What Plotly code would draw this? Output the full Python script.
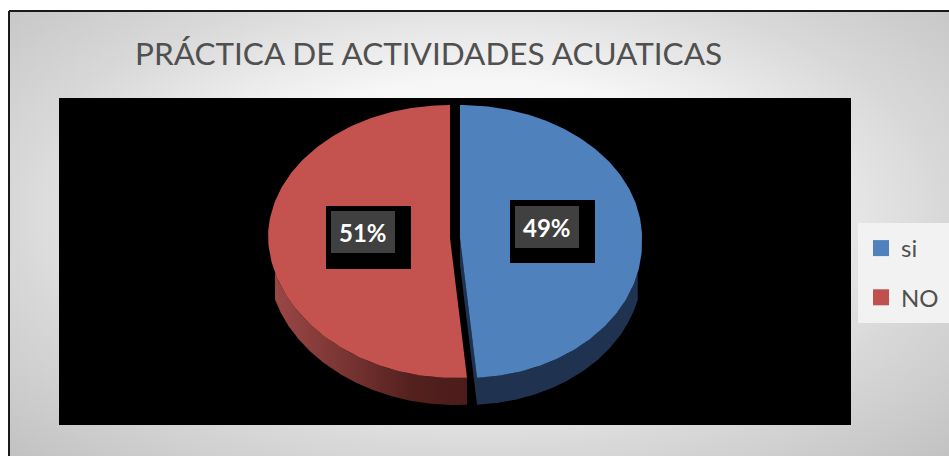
import numpy as np
import plotly.graph_objects as go

# Data
categories = ["si", "NO"]
values = [49, 51]
percent_labels = ["49%", "51%"]
title_text = "PRÁCTICA DE ACTIVIDADES ACUATICAS"

W, H = 949, 456
BLUE, RED = "#4f81bd", "#c4524f"
CY, RX, RY_T, RY_B, DEPTH, SKEW = 238, 182, 133, 140, 27, 0.04
CX_BLUE, CX_RED = 460, 450
WALL_TRIM = 0.25


def pie_xy(cx, t):
    t = np.asarray(t, float)
    c, s = np.cos(t), np.sin(t)
    y = CY - np.where(c > 0, RY_T, RY_B) * c
    x = cx + RX * s + SKEW * np.clip(y - CY, 0, None)
    return x, y


def arc(a, b, n=160):
    return np.linspace(a, b, n)


def rect_xy(x0, y0, x1, y1):
    return [x0, x1, x1, x0, x0], [y0, y0, y1, y1, y0]


total = sum(values)
blue_end = 2 * np.pi * values[0] / total
full = 2 * np.pi

fig = go.Figure()


def poly(x, y, color=None, gradient=None):
    kw = dict(fillgradient=gradient) if gradient else dict(fillcolor=color)
    fig.add_trace(go.Scatter(x=list(x), y=list(y), mode="lines", fill="toself",
                             line=dict(width=0), hoverinfo="skip", showlegend=False, **kw))


# slide background (oversized so that the radial gradient reaches the corners; clipped by the axes)
bx, by = rect_xy(480 - 665, 215 - 340, 480 + 665, 215 + 340)
poly(bx, by, gradient=dict(type="radial",
                           colorscale=[[0, "#ffffff"], [0.4, "#f6f6f6"], [0.7, "#d8d8d8"], [0.92, "#c8c8c8"], [1, "#c2c2c2"]]))
poly(*rect_xy(0, 0, W, 11), "#ffffff")
poly(*rect_xy(0, 0, 9, H), "#ffffff")
poly(*rect_xy(59, 98, 851, 425), "#000000")
poly(*rect_xy(858, 223, W, 323), "#f2f2f2")

# red wall
t = arc(blue_end, 1.5 * np.pi - WALL_TRIM)
x, y = pie_xy(CX_RED, t)
poly(np.r_[x, x[::-1]], np.r_[y, y[::-1] + DEPTH],
     gradient=dict(type="horizontal",
                   colorscale=[[0, "#9a4745"], [0.35, "#7a3533"], [0.7, "#55211f"], [1, "#4a1c1a"]]))
# blue wall
t = arc(0.5 * np.pi + WALL_TRIM, blue_end)
x, y = pie_xy(CX_BLUE, t)
poly(np.r_[x, x[::-1]], np.r_[y, y[::-1] + DEPTH], "#1f3350")
# blue cut face
ex, ey = pie_xy(CX_BLUE, [blue_end])
poly([CX_BLUE, ex[0], ex[0], CX_BLUE], [CY, ey[0], ey[0] + DEPTH, CY + DEPTH], "#1f3350")

# top faces
t = arc(0, blue_end)
x, y = pie_xy(CX_BLUE, t)
poly(np.r_[CX_BLUE, x, CX_BLUE], np.r_[CY, y, CY], BLUE)
t = arc(blue_end, full)
x, y = pie_xy(CX_RED, t)
poly(np.r_[CX_RED, x, CX_RED], np.r_[CY, y, CY], RED)

# legend entries
for name, col in zip(categories, [BLUE, "#c0504d"]):
    fig.add_trace(go.Scatter(x=[None], y=[None], mode="markers", name=name, legendgroup=name,
                             marker=dict(symbol="square", size=16, color=col)))

# data label boxes
shapes = [dict(type="line", x0=9, x1=9, y0=11, y1=H, line=dict(color="#1a1a1a", width=2)),
          dict(type="line", x0=9, x1=W, y0=11, y1=11, line=dict(color="#1a1a1a", width=2))]
boxes = [(510, 200, 515, 206), (326, 206, 331, 211)]
annotations = []
for (bx0, by0, ix0, iy0), lab in zip(boxes, percent_labels):
    shapes.append(dict(type="rect", x0=bx0, x1=bx0 + 85, y0=by0, y1=by0 + 63,
                       fillcolor="#000000", line_width=0))
    shapes.append(dict(type="rect", x0=ix0, x1=ix0 + 64, y0=iy0, y1=iy0 + 42,
                       fillcolor="#404040", line_width=0))
    dots = "".join(f"M{dx},{dy}h1.6v1.6h-1.6Z"
                   for dx in range(ix0 + 3, ix0 + 63, 6) for dy in range(iy0 + 3, iy0 + 41, 6))
    shapes.append(dict(type="path", path=dots, fillcolor="#525252", line_width=0))
    annotations.append(dict(x=ix0 + 32, y=iy0 + 21, text=f"<b>{lab}</b>", showarrow=False,
                            xanchor="center", yanchor="middle",
                            font=dict(family="Lato", size=24, color="#ffffff")))

fig.update_layout(
    width=W, height=H, margin=dict(l=0, r=0, t=0, b=0),
    paper_bgcolor="#ffffff", plot_bgcolor="rgba(0,0,0,0)",
    xaxis=dict(range=[0, W], visible=False, fixedrange=True),
    yaxis=dict(range=[H, 0], visible=False, fixedrange=True),
    title=dict(text=title_text, x=135 / W, xanchor="left", y=1 - 54 / H, yanchor="middle",
               font=dict(family="Lato", size=31.5, color="#505050")),
    legend=dict(x=861 / W, y=1 - 226 / H, xanchor="left", yanchor="top", bgcolor="rgba(0,0,0,0)",
                font=dict(family="Lato", size=24, color="#505050"), tracegroupgap=15,
                itemclick=False, itemdoubleclick=False),
    shapes=shapes, annotations=annotations,
)
fig.write_html("out.html", config=dict(displayModeBar=False),
               post_script="document.body.style.margin='0';document.body.style.overflow='hidden';")
